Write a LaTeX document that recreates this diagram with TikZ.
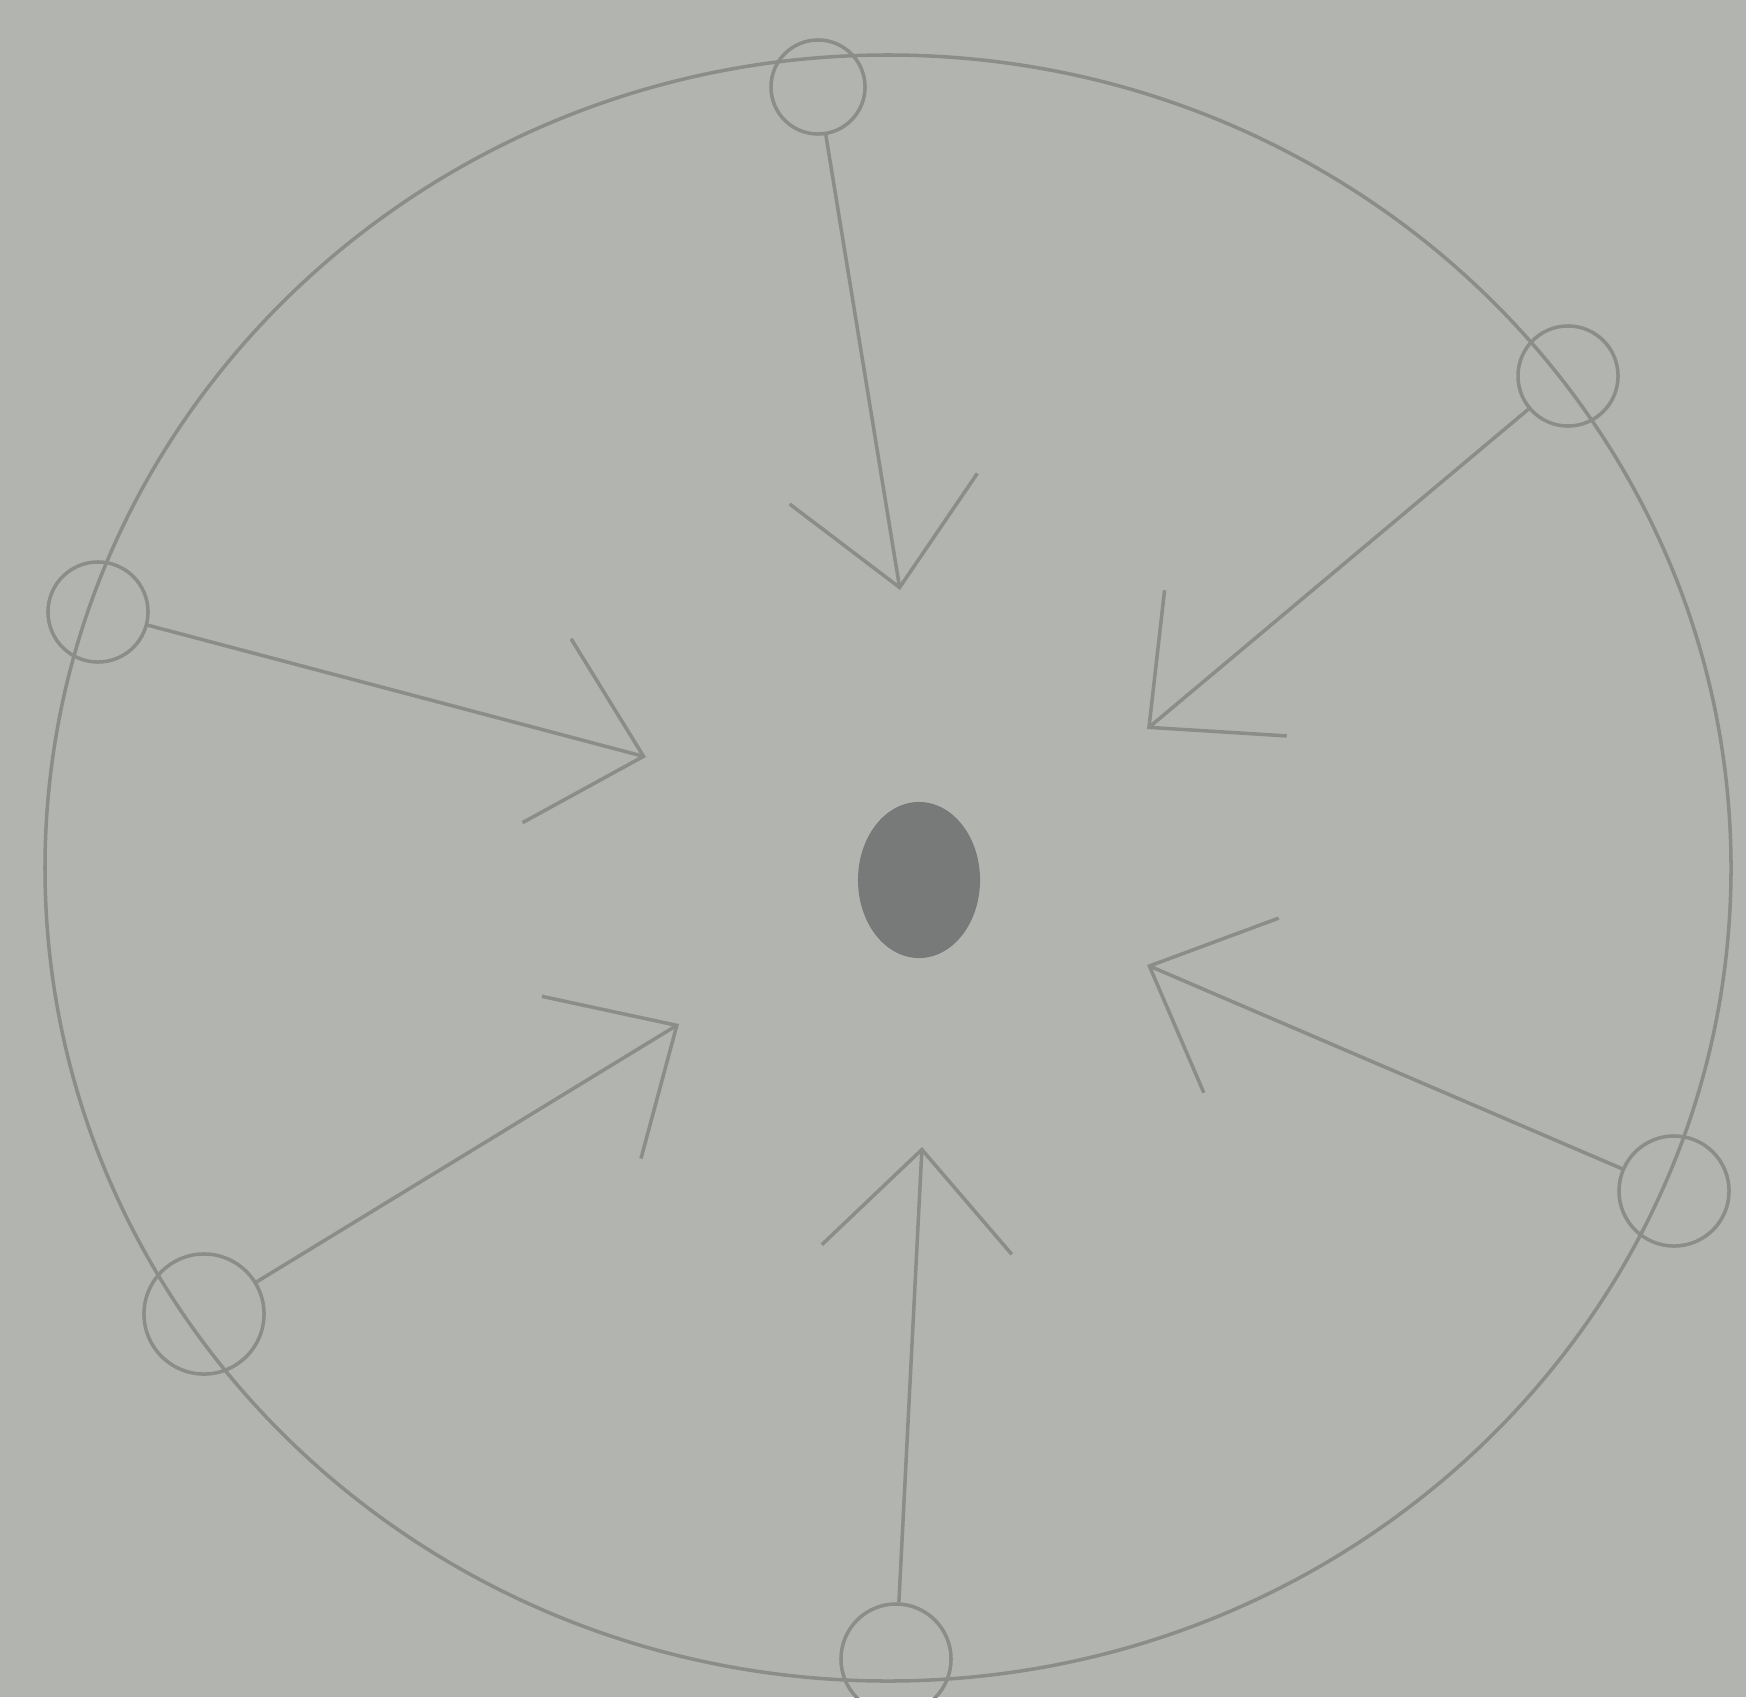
\documentclass[tikz,border=0pt]{standalone}
\usepackage{tikz}
\usetikzlibrary{arrows.meta, positioning, shapes.geometric}
\definecolor{paper}{RGB}{178,181,175}
\definecolor{pencil}{RGB}{138,141,137}
\definecolor{lead}{RGB}{120,122,121}

\begin{document}
\begin{tikzpicture}[
    x=0.01cm, y=-0.01cm, line width=1pt,
    ring/.style={draw=pencil, circle, inner sep=0pt},
    pull/.style={draw=pencil,
                 -{Straight Barb[length=1cm, width=1.9cm, line width=1pt]}}
  ]
  \fill[paper] (0,0) rectangle (1746,1697);
  \useasboundingbox (0,0) rectangle (1746,1697);

  \draw[pencil] (888,868) ellipse [x radius=843, y radius=813];

  \node[fill=lead, ellipse, minimum width=1.22cm,
        minimum height=1.56cm, inner sep=0pt] (core) at (919,880) {};

  \node[ring, minimum size=0.94cm] (s1) at (818,87) {};
  \node[ring, minimum size=1.0cm] (s2) at (1568,376) {};
  \node[ring, minimum size=1.0cm] (s3) at (98,612) {};
  \node[ring, minimum size=1.2cm] (s4) at (204,1314) {};
  \node[ring, minimum size=1.1cm] (s5) at (1674,1191) {};
  \node[ring, minimum size=1.1cm] (s6) at (896,1659) {};

  \coordinate (t1) at (900,590);
  \coordinate (t2) at (1147,729);
  \coordinate (t3) at (646,757);
  \coordinate (t4) at (679,1024);
  \coordinate (t5) at (1147,965);
  \coordinate (t6) at (922,1147);

  \draw[pull] (s1) -- (t1);
  \draw[pull] (s2) -- (t2);
  \draw[pull] (s3) -- (t3);
  \draw[pull] (s4) -- (t4);
  \draw[pull] (s5) -- (t5);
  \draw[pull] (s6) -- (t6);
\end{tikzpicture}
\end{document}
